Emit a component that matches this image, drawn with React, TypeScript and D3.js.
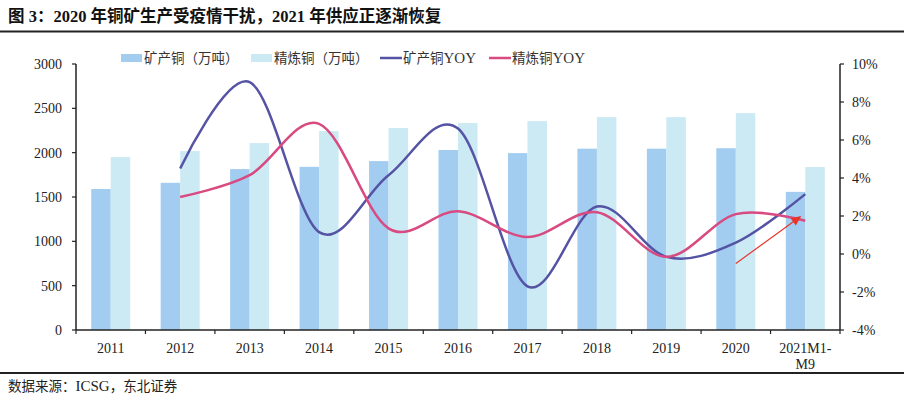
import React from "react";
import * as d3 from "d3";

const years = ["2011", "2012", "2013", "2014", "2015", "2016", "2017", "2018", "2019", "2020", "2021M1-M9"];
const mineOutput = [1590, 1660, 1815, 1840, 1905, 2030, 1995, 2045, 2045, 2050, 1558];
const refinedOutput = [1950, 2018, 2108, 2243, 2278, 2334, 2356, 2401, 2401, 2446, 1838];
// YOY starts from 2012
const mineYoy = [null, 4.5, 9.05, 1.15, 4.15, 6.6, -1.7, 2.5, -0.15, 0.6, 3.15];
const refinedYoy = [null, 3.0, 4.15, 6.85, 1.35, 2.25, 0.9, 2.2, -0.15, 2.1, 1.75];
const leftTicks = [0, 500, 1000, 1500, 2000, 2500, 3000];
const rightTicks = [-4, -2, 0, 2, 4, 6, 8, 10];

const W = 904;
const H = 396;
const margin = { top: 64, right: 64, bottom: 66, left: 76 };
const innerW = W - margin.left - margin.right;
const innerH = H - margin.top - margin.bottom;

const C_MINE = "#a2cdf0";
const C_REF = "#cceaf4";
const C_MINE_LINE = "#5553a3";
const C_REF_LINE = "#d84a80";
const FONT = "'Liberation Serif', 'Times New Roman', 'Noto Sans CJK SC', serif";

export default function App() {
  const x = d3.scaleBand<string>().domain(years).range([margin.left, margin.left + innerW]);
  const yL = d3.scaleLinear().domain([0, 3000]).range([margin.top + innerH, margin.top]);
  const yR = d3.scaleLinear().domain([-4, 10]).range([margin.top + innerH, margin.top]);
  const bw = x.bandwidth();
  const barW = 19.5;
  const cx = (d: string) => (x(d) as number) + bw / 2;

  const line = d3
    .line<{ cat: string; v: number | null }>()
    .defined((d) => d.v !== null)
    .x((d) => cx(d.cat))
    .y((d) => yR(d.v as number))
    .curve(d3.curveCardinal.tension(0));

  const mineLine = line(years.map((c, i) => ({ cat: c, v: mineYoy[i] }))) || "";
  const refLine = line(years.map((c, i) => ({ cat: c, v: refinedYoy[i] }))) || "";

  const baseY = margin.top + innerH;
  const axL = margin.left;
  const axR = margin.left + innerW;

  // annotation arrow, in data terms
  const ax1 = cx("2020");
  const ay1 = yR(-0.5);
  const ax2 = cx("2021M1-M9") - 4;
  const ay2 = yR(2.0);
  const ang = Math.atan2(ay2 - ay1, ax2 - ax1);
  const hl = 10;
  const hw = 4.5;
  const headPts = [
    [ax2, ay2],
    [ax2 - hl * Math.cos(ang) + hw * Math.sin(ang), ay2 - hl * Math.sin(ang) - hw * Math.cos(ang)],
    [ax2 - hl * Math.cos(ang) - hw * Math.sin(ang), ay2 - hl * Math.sin(ang) + hw * Math.cos(ang)],
  ]
    .map((p) => p.join(","))
    .join(" ");

  const legend = [
    { type: "box", color: C_MINE, label: "矿产铜（万吨）", latin: "", x: 121 },
    { type: "box", color: C_REF, label: "精炼铜（万吨）", latin: "", x: 251 },
    { type: "line", color: C_MINE_LINE, label: "矿产铜", latin: "YOY", x: 380 },
    { type: "line", color: C_REF_LINE, label: "精炼铜", latin: "YOY", x: 489 },
  ];

  return (
    <div style={{ position: "absolute", left: 0, top: 0 }}>
      <svg width={W} height={H} style={{ display: "block", background: "#fff" }}>
        {/* title */}
        <text x={8} y={22} fontFamily={FONT} fontWeight="bold" fontSize={16.5} fill="#111">
          图 3：2020 年铜矿生产受疫情干扰，2021 年供应正逐渐恢复
        </text>
        <line x1={0} x2={W} y1={31.5} y2={31.5} stroke="#222" strokeWidth={2} />

        {/* legend */}
        {legend.map((l) => (
          <g key={l.label + l.latin}>
            {l.type === "box" ? (
              <rect x={l.x} y={54} width={21} height={8} fill={l.color} />
            ) : (
              <line x1={l.x} x2={l.x + 22} y1={58} y2={58} stroke={l.color} strokeWidth={2.5} />
            )}
            <text x={l.x + 23} y={63} fontFamily={FONT} fontSize={13.5} fill="#333">
              {l.label}
              {l.latin && <tspan fontSize={15}>{l.latin}</tspan>}
            </text>
          </g>
        ))}

        {/* bars */}
        {years.map((d, i) => (
          <g key={d}>
            <rect x={cx(d) - barW} y={yL(mineOutput[i])} width={barW} height={baseY - yL(mineOutput[i])} fill={C_MINE} />
            <rect x={cx(d)} y={yL(refinedOutput[i])} width={barW} height={baseY - yL(refinedOutput[i])} fill={C_REF} />
          </g>
        ))}

        {/* lines */}
        <path d={mineLine} fill="none" stroke={C_MINE_LINE} strokeWidth={2.5} />
        <path d={refLine} fill="none" stroke={C_REF_LINE} strokeWidth={2.5} />

        {/* arrow */}
        <line x1={ax1} y1={ay1} x2={ax2 - 6 * Math.cos(ang)} y2={ay2 - 6 * Math.sin(ang)} stroke="#e8352b" strokeWidth={1.2} />
        <polygon points={headPts} fill="#e8352b" />

        {/* left axis */}
        <line x1={axL} x2={axL} y1={margin.top} y2={baseY} stroke="#222" strokeWidth={1.5} />
        {leftTicks.map((t) => (
          <g key={t}>
            <line x1={axL - 4} x2={axL} y1={yL(t)} y2={yL(t)} stroke="#222" strokeWidth={1.2} />
            <text x={axL - 14} y={yL(t) + 5} textAnchor="end" fontFamily={FONT} fontSize={14} fill="#222">
              {t}
            </text>
          </g>
        ))}

        {/* right axis */}
        <line x1={axR} x2={axR} y1={margin.top} y2={baseY} stroke="#222" strokeWidth={1.5} />
        {rightTicks.map((t) => (
          <g key={t}>
            <line x1={axR} x2={axR + 4} y1={yR(t)} y2={yR(t)} stroke="#222" strokeWidth={1.2} />
            <text x={axR + 12} y={yR(t) + 5} textAnchor="start" fontFamily={FONT} fontSize={14} fill="#222">
              {t}%
            </text>
          </g>
        ))}

        {/* x axis */}
        <line x1={axL} x2={axR} y1={baseY} y2={baseY} stroke="#222" strokeWidth={1.5} />
        {years.map((d) => (
          <line key={d} x1={x(d) as number} x2={x(d) as number} y1={baseY} y2={baseY + 4} stroke="#222" strokeWidth={1.2} />
        ))}
        <line x1={axR} x2={axR} y1={baseY} y2={baseY + 4} stroke="#222" strokeWidth={1.2} />
        {years.map((d) => {
          const parts = d === "2021M1-M9" ? ["2021M1-", "M9"] : [d];
          return (
            <text key={d} x={cx(d)} y={baseY + 23} textAnchor="middle" fontFamily={FONT} fontSize={14} fill="#222">
              {parts.map((p, k) => (
                <tspan key={p} x={cx(d)} dy={k === 0 ? 0 : 16}>
                  {p}
                </tspan>
              ))}
            </text>
          );
        })}

        {/* footer */}
        <line x1={0} x2={W} y1={373} y2={373} stroke="#222" strokeWidth={2} />
        <text x={8} y={391} fontFamily={FONT} fontSize={13.5} fill="#222">
          数据来源：<tspan fontSize={15}>ICSG</tspan>，东北证券
        </text>
      </svg>
    </div>
  );
}
